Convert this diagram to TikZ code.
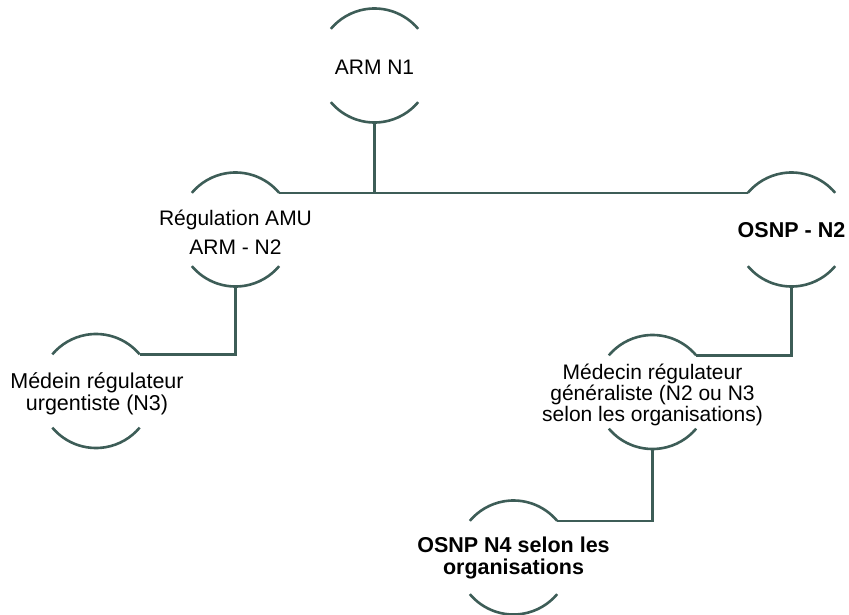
\documentclass[tikz,border=0pt]{standalone}
\usepackage{fontspec}
\setmainfont{Liberation Sans}
\definecolor{lineclr}{HTML}{3D5D57}
\begin{document}
\begin{tikzpicture}[x=1bp,y=-1bp,
  ring/.style={circle, minimum size=114bp, inner sep=0pt, outer sep=0pt},
  lbl/.style={align=center, inner sep=0pt, text=black, font=\fontsize{21bp}{#1}\selectfont},
  lbl/.default=22bp,
  boldlbl/.style={align=center, inner sep=0pt, text=black, font=\fontsize{21.5bp}{22bp}\selectfont\bfseries},
  link/.style={draw=lineclr, line width=2.6bp},
]
\useasboundingbox (0,0) rectangle (849,615);
\newcommand\ringarcs[1]{%
  \draw[link] (#1.40) arc[start angle=40,end angle=140,radius=57bp];
  \draw[link] (#1.220) arc[start angle=220,end angle=320,radius=57bp];}

% rings
\node[ring] (arm) at (374.5,65.5) {};
\node[ring] (reg) at (235.5,229.5) {};
\node[ring] (osnp) at (791.5,229.5) {};
\node[ring] (med) at (96,391) {};
\node[ring] (gen) at (652.5,392) {};
\node[ring] (n4) at (513.5,557.5) {};

% labels
\node[lbl] (arm-t) at (374.5,67) {ARM N1};
\node[lbl=29bp] (reg-t) at (235.5,232) {Régulation AMU\\ARM - N2};
\node[boldlbl] (osnp-t) at (791.5,230) {OSNP - N2};
\node[lbl, font=\fontsize{21.5bp}{22bp}\selectfont] (med-t) at (97,394) {Médein régulateur\\urgentiste (N3)};
\node[lbl=21bp] (gen-t) at (652.5,395) {Médecin régulateur\\généraliste (N2 ou N3\\selon les organisations)};
\node[boldlbl] (n4-t) at (513.5,558) {OSNP N4 selon les\\organisations};

\ringarcs{arm}
\ringarcs{reg}
\ringarcs{osnp}
\ringarcs{med}
\ringarcs{gen}
\ringarcs{n4}

% connectors
\draw[link] (reg.40) -- (osnp.140);
\draw[link] (arm.south) -- (arm.south |- reg.40);
\draw[link] (reg.south) |- (med.40);
\draw[link] (osnp.south) |- (gen.40);
\draw[link] (gen.south) |- (n4.40);
\end{tikzpicture}
\end{document}
